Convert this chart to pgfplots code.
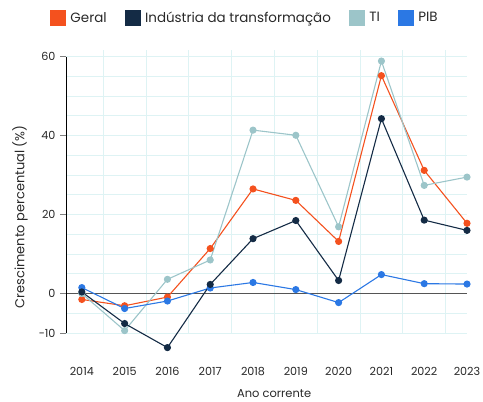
\documentclass[border=0pt]{standalone}
\usepackage{pgfplots}
\pgfplotsset{compat=1.18}
\usepackage{fontspec}
\setmainfont{Poppins}
\definecolor{geral}{RGB}{244,81,30}
\definecolor{ind}{RGB}{20,43,69}
\definecolor{ti}{RGB}{156,197,201}
\definecolor{pib}{RGB}{43,120,228}
\definecolor{gridc}{RGB}{222,243,244}
\definecolor{txt}{RGB}{40,40,40}
\begin{document}
\begin{tikzpicture}
\begin{axis}[
  scale only axis, width=401bp, height=283bp,
  xmin=2013.63, xmax=2023, ymin=-10, ymax=61.7,
  clip=false,
  axis line style={draw=none},
  xtick={2014,2015,...,2023},
  xticklabels={2014,2015,2016,2017,2018,2019,2020,2021,2022,2023},
  minor xtick={2014.5,2015.5,...,2022.5},
  ytick={-10,0,20,40,60},
  minor ytick={-10,-5,...,60},
  xtick pos=bottom, ytick pos=left,
  tick align=outside,
  major tick length=6bp, minor tick length=0pt,
  xtick style={draw=none},
  ytick style={color=gray, line width=0.8bp},
  xmajorgrids=false, xminorgrids=true, ymajorgrids=true, yminorgrids=true,
  major grid style={gridc, line width=1bp},
  minor grid style={gridc, line width=1bp},
  /pgf/number format/assume math mode=true,
  /pgf/number format/1000 sep={},
  ticklabel style={font=\fontsize{11.2}{13}\selectfont, text=txt},
  yticklabel style={xshift=-1bp},
  xticklabel style={yshift=-25bp},
  xlabel={Ano corrente},
  xlabel style={at={(axis description cs:0.519,0)}, anchor=center, yshift=-61bp, font=\fontsize{11.5}{13}\selectfont, text=txt},
  legend style={at={(0.446,1)}, anchor=south, yshift=22bp, draw=none, fill=none,
    font=\fontsize{13.5}{15}\selectfont, text=txt,
    /tikz/every odd column/.append style={column sep=3bp},
    /tikz/every even column/.append style={column sep=16bp}},
  legend columns=-1,
  legend image code/.code={\fill[#1] (0bp,-7.5bp) rectangle (15bp,7.5bp);},
]
\addlegendimage{color=geral}
\addlegendentry{Geral}
\addlegendimage{color=ind}
\addlegendentry{Indústria da transformação}
\addlegendimage{color=ti}
\addlegendentry{TI}
\addlegendimage{color=pib}
\addlegendentry{PIB}

\draw[color={rgb,255:red,85;green,85;blue,85}, line width=1.5bp] (axis cs:2013.63,0) -- (axis cs:2023,0);
\draw[black, line width=0.8bp] (axis cs:2013.63,-10) -- (axis cs:2013.63,60);
\node[rotate=90, anchor=center, font=\fontsize{13}{15}\selectfont, text=txt] at ([xshift=-46bp]rel axis cs:0,0.41) {Crescimento percentual (\%)};

\addplot[geral, line width=1.1bp, mark=*, mark size=3bp, forget plot] coordinates {
(2014,-1.5) (2015,-3.1) (2016,-0.9) (2017,11.4) (2018,26.5) (2019,23.6) (2020,13.2) (2021,55.2) (2022,31.2) (2023,17.8)};
\addplot[ti, line width=1.1bp, mark=*, mark size=3bp, forget plot] coordinates {
(2014,0) (2015,-9.4) (2016,3.6) (2017,8.5) (2018,41.4) (2019,40.1) (2020,16.9) (2021,58.9) (2022,27.4) (2023,29.5)};
\addplot[pib, line width=1.1bp, mark=*, mark size=3bp, forget plot] coordinates {
(2014,1.5) (2015,-3.8) (2016,-1.9) (2017,1.4) (2018,2.8) (2019,1.0) (2020,-2.3) (2021,4.8) (2022,2.5) (2023,2.4)};
\addplot[ind, line width=1.1bp, mark=*, mark size=3bp, forget plot] coordinates {
(2014,0.4) (2015,-7.6) (2016,-13.7) (2017,2.3) (2018,13.9) (2019,18.5) (2020,3.3) (2021,44.3) (2022,18.6) (2023,16.0)};
\end{axis}
\pgfresetboundingbox
\path[use as bounding box] (-66bp,-69bp) rectangle (417bp,333bp);
\end{tikzpicture}
\end{document}
